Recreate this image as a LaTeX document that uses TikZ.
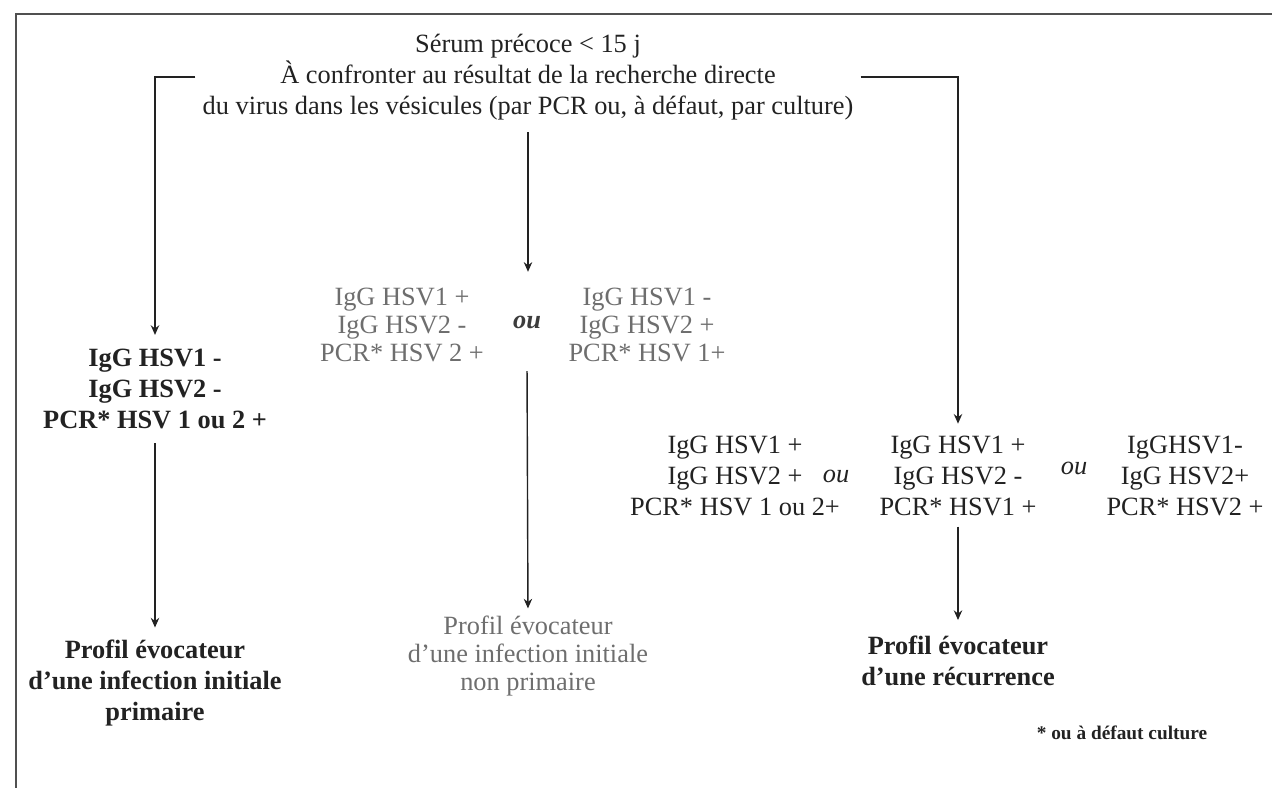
\documentclass[tikz,border=0pt]{standalone}
\usepackage{fontspec}
\setmainfont{Liberation Serif}
\usetikzlibrary{arrows.meta}
\definecolor{txtgray}{HTML}{6E6E6E}
\definecolor{framegray}{HTML}{505050}
\definecolor{ink}{HTML}{222222}
\definecolor{ougray}{HTML}{3C3C3C}
\begin{document}
\begin{tikzpicture}[x=0.02cm,y=-0.02cm,
  txt/.style={align=center,font=\fontsize{15}{17.5}\selectfont,inner sep=0pt,text=ink},
  boldtxt/.style={txt,font=\fontsize{15}{17.5}\selectfont\bfseries},
  greytxt/.style={txt,text=txtgray,font=\fontsize{15}{16}\selectfont},
  outxt/.style={font=\fontsize{15}{17.5}\selectfont\itshape,inner sep=0pt,text=ink},
  arr/.style={-{Stealth[length=5.5pt,width=4.8pt]},line width=0.8pt,draw=ink},
  ]
\useasboundingbox (0,0) rectangle (1272,788);
\draw[framegray,line width=1.7pt] (16,788) -- (16,14) -- (1272,14);

\node[txt] (top) at (528,77) {Sérum précoce < 15 j\\À confronter au résultat de la recherche directe\\du virus dans les vésicules (par PCR ou, à défaut, par culture)};

\node[boldtxt] (lg) at (155,389) {IgG HSV1 -\\IgG HSV2 -\\PCR* HSV 1 ou 2 +};
\node[boldtxt] (lp) at (155,683) {Profil évocateur\\d’une infection initiale\\primaire};

\node[greytxt] (m1) at (402,325) {IgG HSV1 +\\IgG HSV2 -\\PCR* HSV 2 +};
\node[outxt,font=\fontsize{15}{17.5}\selectfont\bfseries\itshape,text=ougray] (mou) at (527,322) {ou};
\node[greytxt] (m2) at (647,325) {IgG HSV1 -\\IgG HSV2 +\\PCR* HSV 1+};
\node[greytxt] (mp) at (528,656) {Profil évocateur\\d’une infection initiale\\non primaire};

\node[txt] (r1) at (735,476) {IgG HSV1 +\\IgG HSV2 +\\PCR* HSV 1 ou 2+};
\node[outxt] (rou1) at (836,476) {ou};
\node[txt] (r2) at (958,476) {IgG HSV1 +\\IgG HSV2 -\\PCR* HSV1 +};
\node[outxt] (rou2) at (1074,468) {ou};
\node[txt] (r3) at (1185,476) {IgGHSV1-\\IgG HSV2+\\PCR* HSV2 +};
\node[boldtxt] (rp) at (958,661) {Profil évocateur\\d’une récurrence};

\node[boldtxt,font=\fontsize{11}{13}\selectfont\bfseries] (fn) at (1122,733) {* ou à défaut culture};

\draw[arr,shorten >=8pt] ([xshift=-4pt]top.west) -| (lg.north);
\draw[arr,shorten <=8pt,shorten >=7pt] (lg.south) -- (lp.north);
\draw[arr,shorten <=7pt,shorten >=9pt] (top.south) -- (top.south |- m1.north);
\draw[arr,shorten <=5pt,shorten >=4pt] (mou.south |- m1.south) -- (mp.north);
\draw[arr,shorten >=7pt] ([xshift=4pt]top.east) -| (r2.north);
\draw[arr,shorten <=6pt,shorten >=9pt] (r2.south) -- (rp.north);
\end{tikzpicture}
\end{document}
